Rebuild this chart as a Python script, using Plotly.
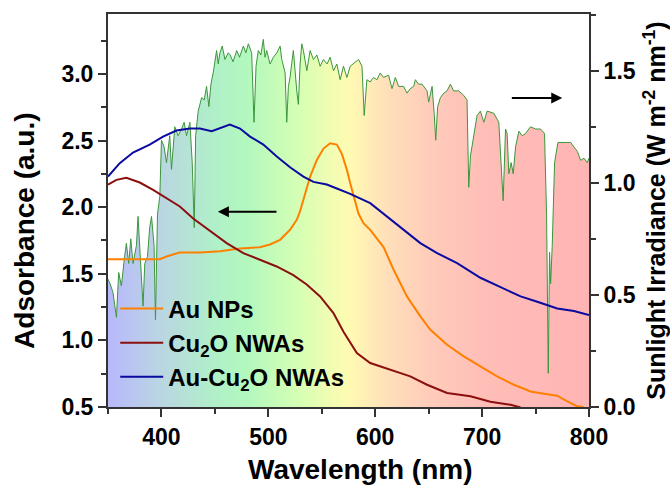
import plotly.graph_objects as go

# ---------------- data ----------------
spec_nm = [350, 352, 354.7, 357.9, 360, 362.5, 365.5, 367.2, 369.4, 371.3, 373.4, 376.6, 378.1, 380.7,
           382.8, 384.4, 386.9, 389, 390.7, 393.1, 394.4, 396.3, 398.5, 400, 402.5, 404.7, 407.8, 409.4,
           412.5, 415.6, 418.8, 421.2, 423.5, 426.6, 428.8, 430.7, 432, 434.4, 437.6, 440, 442.2, 444.4,
           446.3, 448.4, 450, 451.6, 453.1, 454.7, 456.9, 459.4, 462.5, 464.3, 467, 470.4, 473, 476.6,
           479, 481.3, 484.4, 486.6, 488.5, 490.6, 493, 495.3, 496.9, 498.5, 501.6, 504.7, 508, 511,
           512.6, 515.7, 517.2, 518.8, 520.3, 523.4, 526.6, 528.1, 529.7, 531.3, 532.8, 536, 539.1, 542.2,
           545.4, 548.5, 551.6, 555, 557.8, 561, 564.1, 567.2, 570.3, 573.5, 576.6, 581.3, 584.4, 587.6,
           589.7, 592.2, 595.3, 598.4, 601.6, 604.7, 607.8, 612.5, 615.7, 618.8, 621.9, 626.6, 629.7,
           632.8, 636, 637.5, 640.6, 643.8, 648.5, 650, 653.2, 655.3, 656.6, 658.4, 661, 664.1, 667.2,
           670.3, 673.4, 678.1, 682.8, 685.9, 687.5, 689.1, 692.2, 695.3, 698.4, 701.6, 704.7, 711, 715.6,
           717.9, 719.7, 721.9, 723.4, 725, 727.2, 729.1, 731.3, 734.4, 737.5, 740.6, 745.3, 750, 754.7,
           758.4, 760.3, 761.9, 763.1, 764.1, 765.6, 767.8, 770.9, 776.6, 782.8, 789.1, 792.2, 795.3,
           798.4, 800]
spec_val = [0.57, 0.55, 0.51, 0.40, 0.60, 0.54, 0.67, 0.73, 0.64, 0.75, 0.64, 0.72, 0.85, 0.63,
            0.45, 0.64, 0.67, 0.80, 0.85, 0.72, 0.39, 0.86, 0.94, 1.19, 1.16, 1.09, 1.21, 1.06,
            1.25, 1.21, 1.24, 1.27, 1.21, 1.27, 1.09, 0.80, 1.21, 1.32, 1.38, 1.37, 1.43, 1.34,
            1.44, 1.49, 1.55, 1.59, 1.53, 1.58, 1.61, 1.55, 1.58, 1.57, 1.54, 1.59, 1.56, 1.61,
            1.58, 1.62, 1.58, 1.27, 1.52, 1.59, 1.57, 1.64, 1.56, 1.59, 1.53, 1.56, 1.58, 1.61,
            1.55, 1.49, 1.27, 1.43, 1.47, 1.59, 1.41, 1.35, 1.53, 1.62, 1.59, 1.50, 1.59, 1.55,
            1.57, 1.52, 1.55, 1.53, 1.56, 1.50, 1.53, 1.46, 1.52, 1.47, 1.52, 1.54, 1.55, 1.52,
            1.30, 1.46, 1.45, 1.47, 1.46, 1.49, 1.47, 1.48, 1.42, 1.47, 1.43, 1.43, 1.40,
            1.42, 1.43, 1.46, 1.44, 1.44, 1.41, 1.36, 1.43, 1.30, 1.19, 1.34, 1.38, 1.40, 1.41,
            1.44, 1.41, 1.41, 1.39, 1.37, 0.98, 1.12, 1.21, 1.30, 1.32, 1.27, 1.32, 1.31, 1.27,
            1.09, 0.92, 1.24, 1.22, 1.04, 1.09, 1.04, 1.16, 1.23, 1.21, 1.22, 1.25, 1.24, 1.24,
            1.22, 0.86, 0.15, 0.69, 0.55, 0.72, 1.09, 1.18, 1.18, 1.18, 1.14, 1.10, 1.11,
            1.09, 1.11]

au_nm = [350, 398.5, 404.7, 417, 436, 454.7, 473.5, 492, 501.6, 511, 520.3, 526.6, 529.7, 539.1,
         545.4, 551.6, 557.8, 564.1, 568.8, 573.5, 576.6, 579.7, 584.4, 589, 595.3, 607.8, 617.2,
         629.7, 642.2, 651.6, 667.2, 682.8, 698.4, 714, 729.7, 745.3, 757.8, 770.3, 779.7, 789.1, 795]
au_val = [1.61, 1.61, 1.63, 1.66, 1.66, 1.67, 1.69, 1.70, 1.72, 1.755, 1.83, 1.905, 1.97, 2.23,
          2.355, 2.44, 2.48, 2.47, 2.40, 2.28, 2.18, 2.08, 1.95, 1.88, 1.83, 1.70, 1.53,
          1.33, 1.18, 1.08, 0.967, 0.88, 0.805, 0.73, 0.667, 0.617, 0.60, 0.585, 0.542, 0.505, 0.5]

cu_nm = [350, 357.9, 367.2, 379.7, 392.2, 404.7, 417.2, 429.7, 445.3, 461, 476.6, 492.2, 507.8,
         523.4, 535.9, 548.4, 560.9, 570.3, 582.8, 595.3, 614.1, 632.8, 648.5, 667.2, 689.1, 707.8,
         726.6, 736]
cu_val = [2.17, 2.205, 2.22, 2.185, 2.13, 2.07, 2.005, 1.915, 1.825, 1.73, 1.655, 1.605, 1.555,
          1.49, 1.42, 1.33, 1.205, 1.065, 0.905, 0.83, 0.78, 0.73, 0.667, 0.605, 0.58, 0.54,
          0.517, 0.497]

aucu_nm = [350, 361, 373.4, 389, 401.5, 414, 426.6, 436, 447, 454.7, 464, 473.5, 482.9, 495.3,
           507.9, 520.3, 532.8, 542.2, 554.7, 564.1, 576.6, 595.3, 614.1, 626.6, 642.2, 657.9,
           676.6, 698.4, 720.3, 736, 751.6, 770.3, 785.9, 800]
aucu_val = [2.23, 2.33, 2.41, 2.47, 2.53, 2.575, 2.59, 2.59, 2.57, 2.59, 2.62, 2.59, 2.53, 2.47,
            2.38, 2.30, 2.23, 2.19, 2.17, 2.14, 2.10, 2.03, 1.91, 1.83, 1.73, 1.655,
            1.58, 1.47, 1.39, 1.33, 1.29, 1.24, 1.22, 1.19]

names = ["Au NPs", "Cu<sub>2</sub>O NWAs", "Au-Cu<sub>2</sub>O NWAs"]
colors = ["rgb(255,128,0)", "rgb(140,15,15)", "rgb(10,10,160)"]

grad = [[0.0, "rgb(184,184,252)"], [0.111, "rgb(186,214,226)"], [0.222, "rgb(176,240,200)"],
        [0.289, "rgb(178,248,190)"], [0.40, "rgb(215,255,180)"], [0.50, "rgb(255,251,178)"],
        [0.578, "rgb(255,224,186)"], [0.667, "rgb(255,204,186)"], [0.778, "rgb(255,190,184)"],
        [1.0, "rgb(255,180,180)"]]

FONT = "Arial, Liberation Sans, sans-serif"

fig = go.Figure()
fig.add_trace(go.Scatter(x=spec_nm, y=spec_val, mode="lines", fill="tozeroy",
                         fillgradient=dict(type="horizontal", colorscale=grad, start=350, stop=800),
                         line=dict(color="rgb(60,150,60)", width=1), showlegend=False,
                         yaxis="y", hoverinfo="skip"))
for nm, val, name, c in [(au_nm, au_val, names[0], colors[0]),
                         (cu_nm, cu_val, names[1], colors[1]),
                         (aucu_nm, aucu_val, names[2], colors[2])]:
    fig.add_trace(go.Scatter(x=nm, y=val, mode="lines", name=name, yaxis="y2",
                             line=dict(color=c, width=2)))

axis_common = dict(showgrid=False, zeroline=False, showline=True, linecolor="#333", linewidth=2,
                   ticks="outside", ticklen=8, tickwidth=2, tickcolor="#333", automargin=False,
                   tickfont=dict(family=FONT, size=23, color="black", weight="bold"))
minor_common = dict(ticklen=5, tickwidth=2, tickcolor="#333", ticks="outside")
TITLE_FONT = dict(family=FONT, size=28, color="black", weight="bold")

fig.update_layout(
    width=670, height=486,
    margin=dict(l=108, r=81, t=14, b=79),
    plot_bgcolor="white", paper_bgcolor="white",
    xaxis=dict(range=[350, 800], dtick=100, tick0=400, mirror=True,
               minor=dict(dtick=50, **minor_common), **axis_common),
    yaxis=dict(range=[0, 1.753], side="right", dtick=0.5, tick0=0, tickformat=".1f",
               minor=dict(dtick=0.25, **minor_common),
               title=dict(text="Sunlight Irradiance (W m<sup>-2</sup> nm<sup>-1</sup>)", standoff=16,
                          font=dict(family=FONT, size=25, color="black", weight="bold")),
               **axis_common),
    yaxis2=dict(range=[0.5, 3.45], side="left", overlaying="y", dtick=0.5, tick0=0.5,
                tickformat=".1f", minor=dict(dtick=0.25, **minor_common), **axis_common),
    legend=dict(x=0.015, y=0.307, xanchor="left", yanchor="top", bgcolor="rgba(0,0,0,0)",
                font=dict(family=FONT, size=24, color="black", weight="bold"),
                itemwidth=43, tracegroupgap=0),
    showlegend=True,
)

# axis titles
fig.add_annotation(text="Adsorbance (a.u.)", xref="paper", yref="paper", x=-0.1726, y=0.448,
                   xanchor="center", yanchor="middle", textangle=-90, showarrow=False, font=TITLE_FONT)
fig.add_annotation(text="Wavelength (nm)", xref="paper", yref="paper", x=0.524, y=-0.160,
                   xanchor="center", yanchor="middle", showarrow=False, font=TITLE_FONT)

# arrows
fig.add_annotation(x=452.8, y=1.965, ax=509, ay=1.965, xref="x", yref="y2", axref="x", ayref="y2",
                   text="", showarrow=True, arrowhead=2, arrowsize=1.1, arrowwidth=2, arrowcolor="black")
fig.add_annotation(x=775, y=2.82, ax=726.4, ay=2.82, xref="x", yref="y2", axref="x", ayref="y2",
                   text="", showarrow=True, arrowhead=2, arrowsize=1.1, arrowwidth=2, arrowcolor="black")

fig.write_html("out.html")
